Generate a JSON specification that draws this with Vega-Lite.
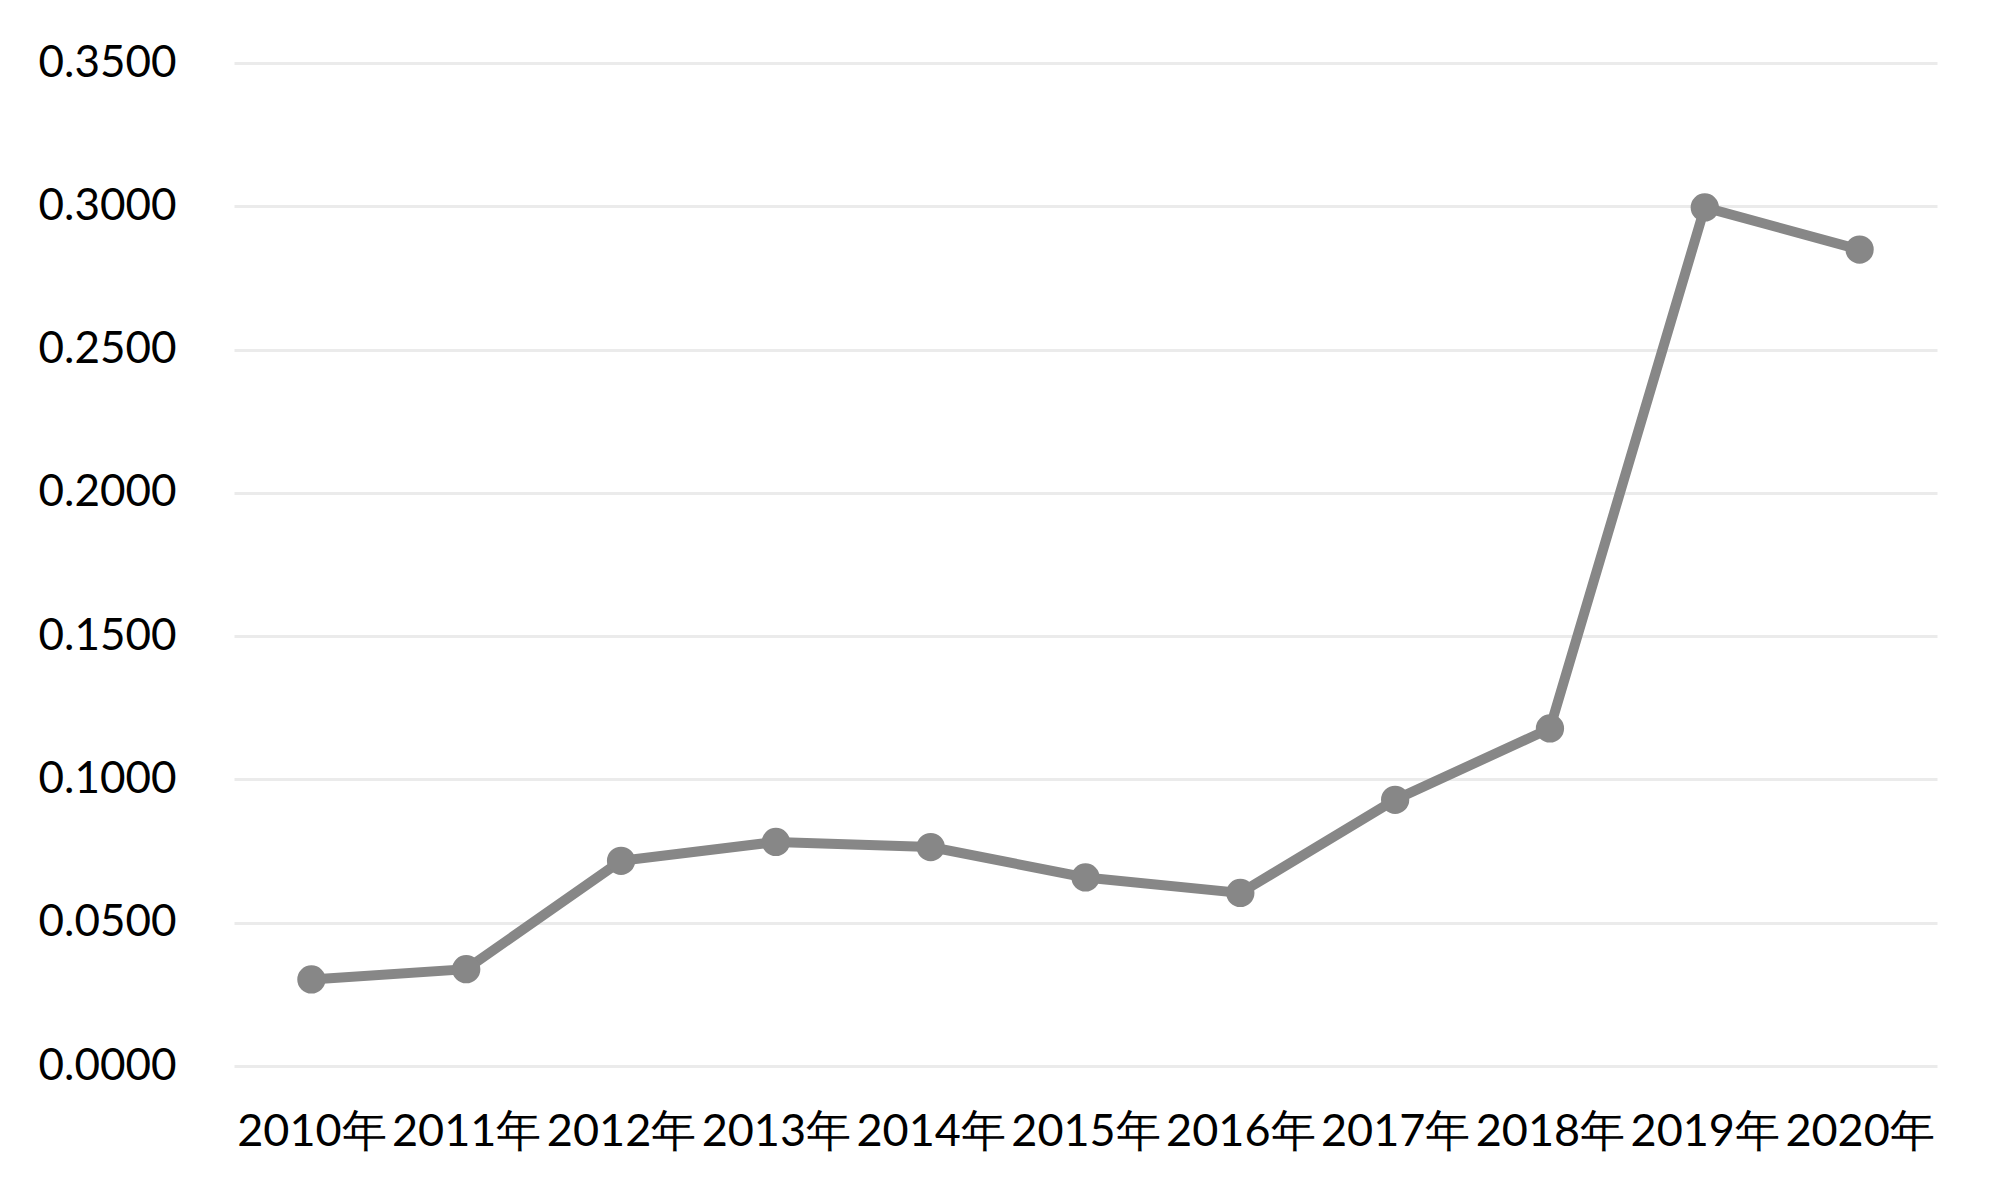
{
  "$schema": "https://vega.github.io/schema/vega-lite/v6.json",
  "width": 1703,
  "height": 1003,
  "autosize": {"type": "none"},
  "padding": {"left": 234, "top": 63, "right": 63, "bottom": 135},
  "background": "white",
  "config": {
    "view": {"stroke": null},
    "font": "Lato",
    "axis": {"labelFont": "Lato", "labelColor": "#000000", "domain": false, "ticks": false}
  },
  "data": {
    "values": [
      {"year": "2010年", "value": 0.0302},
      {"year": "2011年", "value": 0.0338},
      {"year": "2012年", "value": 0.0716},
      {"year": "2013年", "value": 0.0782},
      {"year": "2014年", "value": 0.0764},
      {"year": "2015年", "value": 0.0658},
      {"year": "2016年", "value": 0.0604},
      {"year": "2017年", "value": 0.0929},
      {"year": "2018年", "value": 0.1178},
      {"year": "2019年", "value": 0.2996},
      {"year": "2020年", "value": 0.2849}
    ]
  },
  "encoding": {
    "x": {
      "field": "year",
      "type": "ordinal",
      "scale": {"type": "point", "padding": 0.5},
      "axis": {"title": null, "labelAngle": 0, "labelFontSize": 45, "labelPadding": 43, "grid": false}
    },
    "y": {
      "field": "value",
      "type": "quantitative",
      "scale": {"domain": [0, 0.35], "nice": false},
      "axis": {
        "title": null,
        "values": [0, 0.05, 0.1, 0.15, 0.2, 0.25, 0.3, 0.35],
        "format": ".4f",
        "labelFontSize": 44,
        "labelPadding": 58,
        "grid": true,
        "gridColor": "#ebebeb",
        "gridWidth": 3
      }
    }
  },
  "layer": [
    {"mark": {"type": "line", "color": "#878787", "strokeWidth": 10}},
    {"mark": {"type": "point", "shape": "circle", "filled": true, "color": "#878787", "opacity": 1, "size": 800}}
  ]
}
